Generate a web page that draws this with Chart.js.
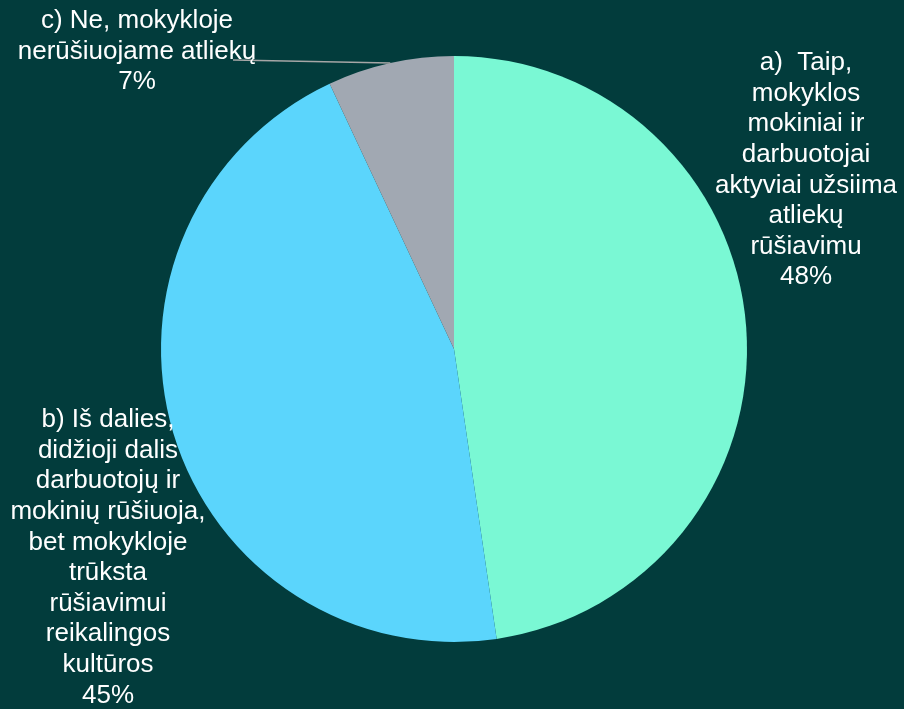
<!DOCTYPE html>
<html>
<head>
<meta charset="utf-8">
<script src="https://cdn.jsdelivr.net/npm/chart.js@4"></script>
<style>
  html, body { margin: 0; padding: 0; background: #023c3c; }
  #wrap { width: 904px; height: 709px; position: relative; }
</style>
</head>
<body>
<div id="wrap"><canvas id="pieChart"></canvas></div>
<script>
// Dados do gráfico
const categorias = [
    ['a)  Taip,', 'mokyklos', 'mokiniai ir', 'darbuotojai', 'aktyviai užsiima', 'atliekų', 'rūšiavimu'],
    ['b) Iš dalies,', 'didžioji dalis', 'darbuotojų ir', 'mokinių rūšiuoja,', 'bet mokykloje', 'trūksta', 'rūšiavimui', 'reikalingos', 'kultūros'],
    ['c) Ne, mokykloje', 'nerūšiuojame atliekų']
];
const valores = [41, 39, 6];
const cores = ['#7af8d4', '#5bd5fc', '#a1a8b2'];

// Posição dos rótulos (centro x, y da primeira linha)
const posRotulos = [
    { x: 806, y: 63 },
    { x: 108, y: 420 },
    { x: 137, y: 21 }
];
const alturaLinha = 30.6;

// Plugin para desenhar os rótulos fora da pizza
const rotulosPlugin = {
    id: 'rotulos',
    afterDraw(chart) {
        const ctx = chart.ctx;
        const total = valores.reduce((a, b) => a + b, 0);
        const arcs = chart.getDatasetMeta(0).data;
        ctx.save();

        // linha de ligação do rótulo c
        const arcC = arcs[2];
        const meio = (arcC.startAngle + arcC.endAngle) / 2;
        const px = arcC.x + Math.cos(meio) * arcC.outerRadius;
        const py = arcC.y + Math.sin(meio) * arcC.outerRadius;
        ctx.strokeStyle = '#a6a6a6';
        ctx.lineWidth = 1.5;
        ctx.beginPath();
        ctx.moveTo(233, 60);
        ctx.lineTo(px, py);
        ctx.stroke();

        ctx.fillStyle = '#ffffff';
        ctx.font = '26px "Liberation Sans", Arial, sans-serif';
        ctx.textAlign = 'center';
        ctx.textBaseline = 'middle';
        categorias.forEach((linhas, i) => {
            const pos = posRotulos[i];
            const todas = linhas.concat([Math.round(valores[i] / total * 100) + '%']);
            todas.forEach((txt, j) => {
                ctx.fillText(txt, pos.x, pos.y + j * alturaLinha);
            });
        });
        ctx.restore();
    }
};

const ctx = document.getElementById('pieChart').getContext('2d');
const grafico = new Chart(ctx, {
    type: 'pie',
    data: {
        labels: categorias.map(l => l.join(' ')),
        datasets: [{
            data: valores,
            backgroundColor: cores,
            borderWidth: 0
        }]
    },
    options: {
        responsive: true,
        maintainAspectRatio: false,
        animation: false,
        layout: {
            padding: { top: 56, bottom: 67, left: 100, right: 96 }
        },
        plugins: {
            legend: { display: false },
            tooltip: { enabled: false }
        }
    },
    plugins: [rotulosPlugin]
});
</script>
</body>
</html>
